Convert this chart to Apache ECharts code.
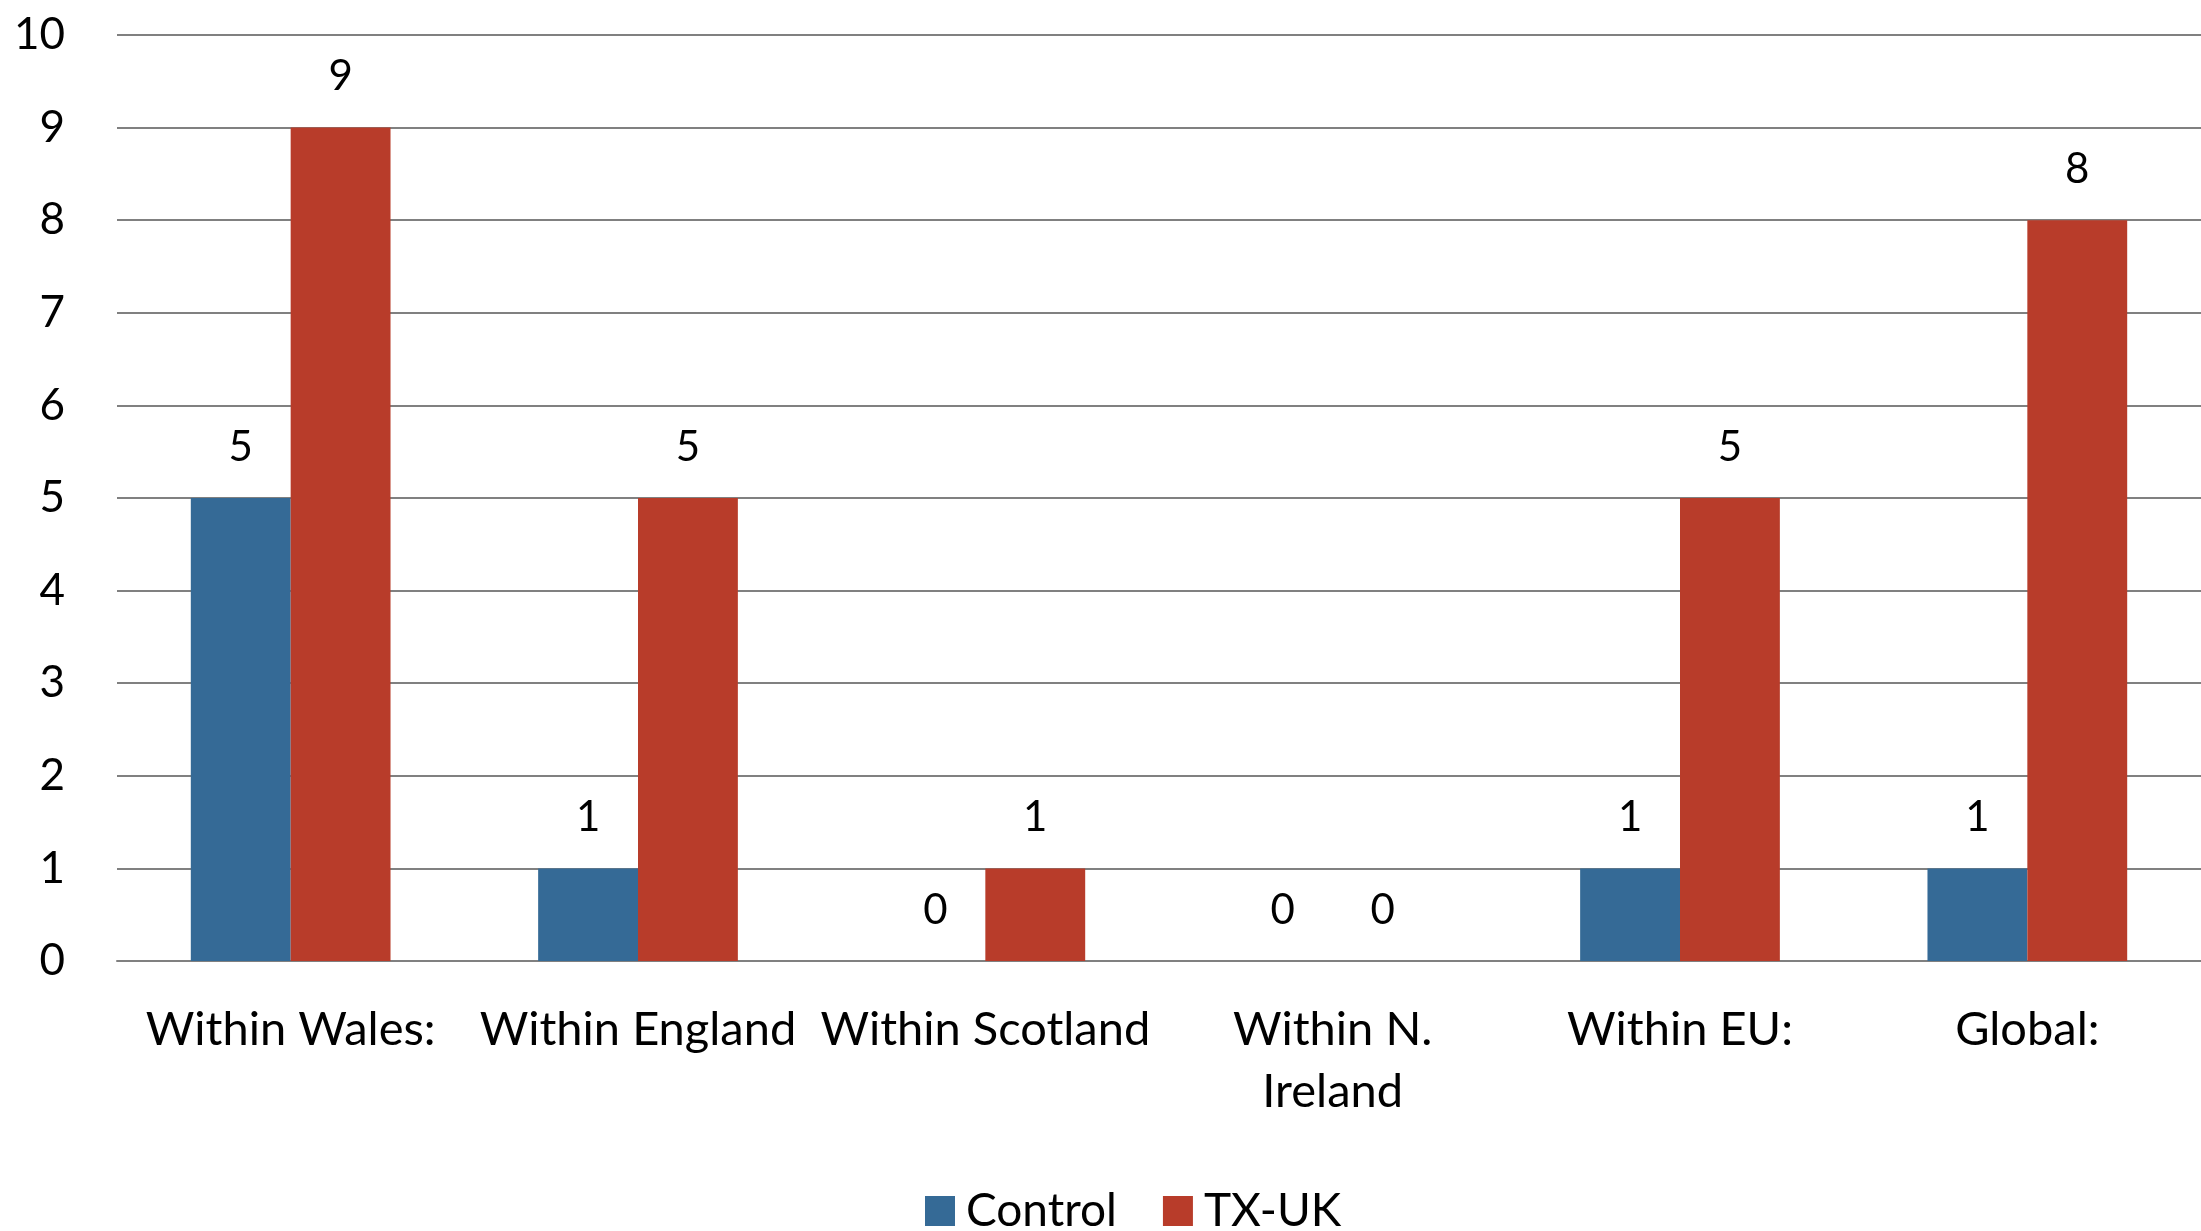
<!DOCTYPE html>
<html>
<head>
<meta charset="utf-8">
<script src="https://cdn.jsdelivr.net/npm/echarts@6/dist/echarts.min.js"></script>
<style>
html,body{margin:0;padding:0;background:#fff;}
#c{width:2201px;height:1231px;}
</style>
</head>
<body>
<div id="c"></div>
<script>
const categories = ["Within Wales:", "Within England", "Within Scotland", "Within N. Ireland", "Within EU:", "Global:"];
const controlValues = [5, 1, 0, 0, 1, 1];
const txukValues = [9, 5, 1, 0, 5, 8];
const seriesNames = ["Control", "TX-UK"];

const FONT = "Lato";
const chart = echarts.init(document.getElementById('c'), null, {renderer: 'canvas'});
const labelStyle = {show: true, position: 'top', distance: 30, color: '#000', fontFamily: FONT, fontSize: 42};
chart.setOption({
  animation: false,
  backgroundColor: '#fff',
  grid: {left: 117, right: -4, top: 35, bottom: 270, containLabel: false},
  legend: {
    left: 920, top: 1183,
    itemWidth: 30, itemHeight: 30, itemGap: 46,
    icon: 'rect',
    textStyle: {fontFamily: FONT, fontSize: 46, color: '#000', padding: [0, 0, 0, 6]},
    data: seriesNames
  },
  xAxis: {
    type: 'category',
    data: categories,
    axisLine: {lineStyle: {color: '#808080', width: 2}},
    axisTick: {show: false},
    axisLabel: {
      interval: 0, margin: 38, color: '#000', fontFamily: FONT, fontSize: 47, lineHeight: 62,
      formatter: v => v.replace('N. ', 'N.\n')
    }
  },
  yAxis: {
    type: 'value', min: 0, max: 10, interval: 1,
    axisLine: {show: false},
    axisTick: {show: false},
    splitLine: {lineStyle: {color: '#808080', width: 2}},
    axisLabel: {margin: 52, color: '#000', fontFamily: FONT, fontSize: 44}
  },
  series: [
    {name: seriesNames[0], type: 'bar', data: controlValues, barGap: '0%', barCategoryGap: '42.5%',
     itemStyle: {color: '#356A96'}, label: labelStyle},
    {name: seriesNames[1], type: 'bar', data: txukValues, barGap: '0%', barCategoryGap: '42.5%',
     itemStyle: {color: '#B83C2A'}, label: labelStyle}
  ]
});
</script>
</body>
</html>
